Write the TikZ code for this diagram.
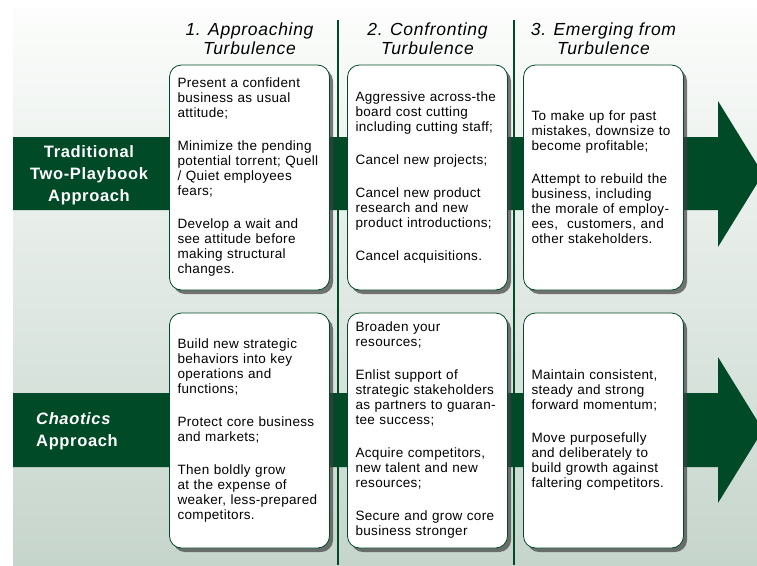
\documentclass[tikz,border=0pt]{standalone}
\usepackage{fontspec}
\setmainfont{Liberation Sans}
\newfontfamily\boxfont[LetterSpace=2.5]{Liberation Sans}
\newfontfamily\headfont[LetterSpace=4]{Liberation Sans}
\usetikzlibrary{positioning, shadows}
\definecolor{darkgreen}{RGB}{0,74,40}
\definecolor{bgtop}{RGB}{252,253,252}
\definecolor{bgbottom}{RGB}{198,213,204}
\tikzset{
	phase/.style={draw=darkgreen, line width=0.8pt, fill=white, rounded corners=12pt,
		minimum height=225pt, text width=144pt, inner xsep=8pt, inner ysep=0pt, align=left,
		font=\boxfont\fontsize{13.5}{15}\selectfont,
		drop shadow={shadow xshift=3.5pt, shadow yshift=-4pt, opacity=0.7, fill=black!75}},
	stagehead/.style={align=center, inner sep=0pt, font=\headfont\itshape\fontsize{17.5}{19}\selectfont},
	approach/.style={text=white, inner sep=0pt, font=\headfont\bfseries\fontsize{16.5}{22}\selectfont}
}

\begin{document}
\begin{tikzpicture}[x=1pt, y=-1pt]
	\useasboundingbox (0,0) rectangle (757,565);
	\fill[white] (0,0) rectangle (757,565);
	%Fondo
	\shade[top color=bgtop, bottom color=bgbottom] (13,8) rectangle (757,565);
	\draw[darkgreen, line width=1.2pt] (338,20) -- (338,565);
	\draw[darkgreen, line width=1.2pt] (514,20) -- (514,565);
	
	%Flechas
	\fill[darkgreen] (13,137) -- (718,137) -- (718,101) -- (763,174) -- (718,247) -- (718,210) -- (13,210) -- cycle;
	\fill[darkgreen] (13,393) -- (718,393) -- (718,357) -- (763,430) -- (718,503) -- (718,467) -- (13,467) -- cycle;
	\node[approach, align=center] (tradlabel) at (89,175) {Traditional\\Two-Playbook\\Approach};
	\node[approach, align=left, anchor=west] (chaolabel) at (36,431) {\textit{Chaotics}\\Approach};
	
	%Cajas fila 1
	\node[phase] (trad1) at (249.5,177.5) {Present a confident\\business as usual\\attitude;\\[18pt]Minimize the pending\\potential torrent; Quell\\/ Quiet employees\\fears;\\[18pt]Develop a wait and\\see attitude before\\making structural\\changes.};
	\node[phase] (trad2) at (427.5,177.5) {Aggressive across-the\\board cost cutting\\including cutting staff;\\[18pt]Cancel new projects;\\[18pt]Cancel new product\\research and new\\product introductions;\\[18pt]Cancel acquisitions.};
	\node[phase] (trad3) at (603.5,177.5) {To make up for past\\mistakes, downsize to\\become profitable;\\[18pt]Attempt to rebuild the\\business, including\\the morale of employ-\\ees,~ customers, and\\other stakeholders.};
	
	%Cajas fila 2
	\node[phase, minimum height=235pt] (chao1) at (249.5,430.5) {Build new strategic\\behaviors into key\\operations and\\functions;\\[18pt]Protect core business\\and markets;\\[18pt]Then boldly grow\\at the expense of\\weaker, less-prepared\\competitors.};
	\node[phase, minimum height=235pt] (chao2) at (427.5,430.5) {Broaden your\\resources;\\[18pt]Enlist support of\\strategic stakeholders\\as partners to guaran-\\tee success;\\[18pt]Acquire competitors,\\new talent and new\\resources;\\[18pt]Secure and grow core\\business stronger};
	\node[phase, minimum height=235pt] (chao3) at (603.5,430.5) {Maintain consistent,\\steady and strong\\forward momentum;\\[18pt]Move purposefully\\and deliberately to\\build growth against\\faltering competitors.};
	
	%Etapas
	\node[stagehead, above=10pt of trad1] (stage1) {1. Approaching\\Turbulence};
	\node[stagehead, above=10pt of trad2] (stage2) {2. Confronting\\Turbulence};
	\node[stagehead, above=10pt of trad3] (stage3) {3. Emerging from\\Turbulence};
\end{tikzpicture}
\end{document}
